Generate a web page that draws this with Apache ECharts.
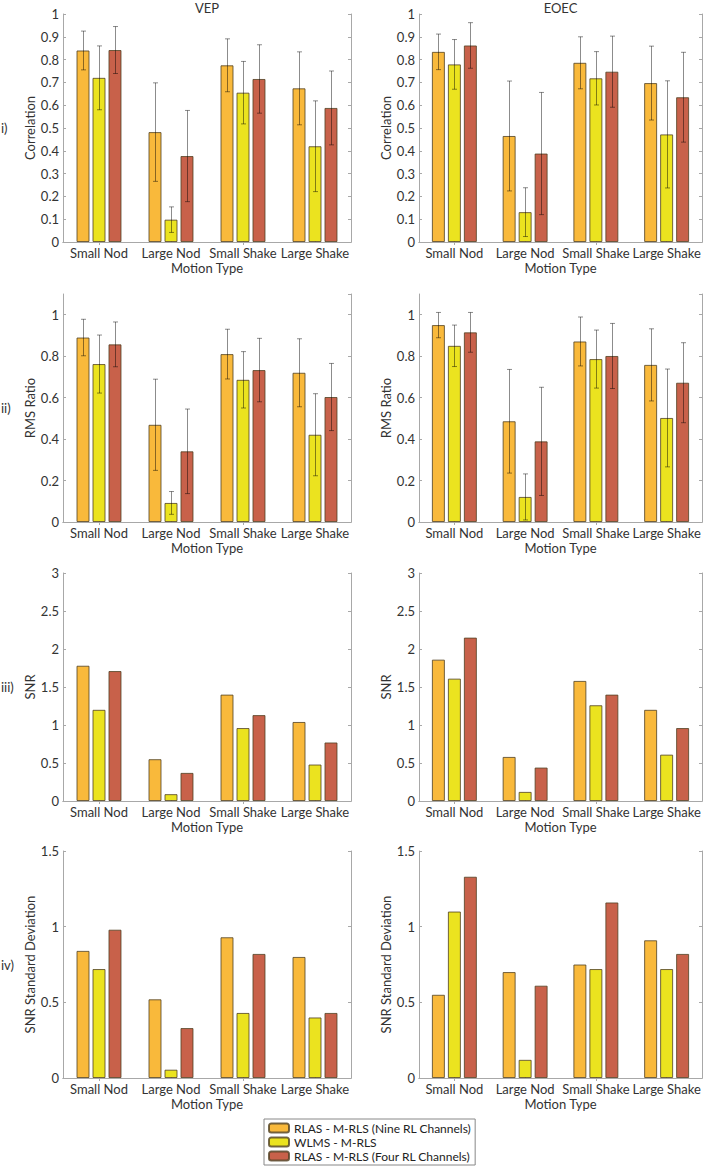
<!DOCTYPE html>
<html>
<head>
<meta charset="utf-8">
<script src="https://cdn.jsdelivr.net/npm/echarts@6/dist/echarts.min.js"></script>
<style>
html,body{margin:0;padding:0;background:#fff;}
#chart{width:709px;height:1166px;}
</style>
</head>
<body>
<div id="chart"></div>
<script>
// ---------- data ----------
const categories = ['Small Nod', 'Large Nod', 'Small Shake', 'Large Shake'];
const seriesNames = ['RLAS - M-RLS (Nine RL Channels)', 'WLMS - M-RLS', 'RLAS - M-RLS (Four RL Channels)'];
const columnTitles = ['VEP', 'EOEC'];
const rowLabels = ['i)', 'ii)', 'iii)', 'iv)'];
const yAxisNames = ['Correlation', 'RMS Ratio', 'SNR', 'SNR Standard Deviation'];
const xAxisName = 'Motion Type';

// i) Correlation
const vepCorrNine = [0.840, 0.482, 0.775, 0.674];
const vepCorrWlms = [0.720, 0.098, 0.655, 0.420];
const vepCorrFour = [0.842, 0.377, 0.715, 0.588];
const vepCorrNineErr = [0.085, 0.216, 0.116, 0.160];
const vepCorrWlmsErr = [0.140, 0.056, 0.137, 0.199];
const vepCorrFourErr = [0.103, 0.200, 0.150, 0.162];

const eoecCorrNine = [0.834, 0.465, 0.786, 0.697];
const eoecCorrWlms = [0.779, 0.131, 0.718, 0.472];
const eoecCorrFour = [0.862, 0.388, 0.747, 0.635];
const eoecCorrNineErr = [0.078, 0.241, 0.114, 0.162];
const eoecCorrWlmsErr = [0.109, 0.107, 0.117, 0.235];
const eoecCorrFourErr = [0.100, 0.268, 0.156, 0.197];

// ii) RMS Ratio
const vepRmsNine = [0.890, 0.469, 0.810, 0.720];
const vepRmsWlms = [0.762, 0.092, 0.686, 0.421];
const vepRmsFour = [0.857, 0.341, 0.733, 0.603];
const vepRmsNineErr = [0.088, 0.220, 0.120, 0.164];
const vepRmsWlmsErr = [0.140, 0.055, 0.136, 0.198];
const vepRmsFourErr = [0.108, 0.204, 0.153, 0.162];

const eoecRmsNine = [0.950, 0.486, 0.871, 0.758];
const eoecRmsWlms = [0.850, 0.121, 0.786, 0.502];
const eoecRmsFour = [0.915, 0.389, 0.801, 0.672];
const eoecRmsNineErr = [0.061, 0.250, 0.118, 0.174];
const eoecRmsWlmsErr = [0.100, 0.111, 0.140, 0.236];
const eoecRmsFourErr = [0.096, 0.261, 0.157, 0.193];

// iii) SNR
const vepSnrNine = [1.78, 0.55, 1.40, 1.04];
const vepSnrWlms = [1.20, 0.09, 0.96, 0.48];
const vepSnrFour = [1.71, 0.37, 1.13, 0.77];
const eoecSnrNine = [1.86, 0.58, 1.58, 1.20];
const eoecSnrWlms = [1.61, 0.12, 1.26, 0.61];
const eoecSnrFour = [2.15, 0.44, 1.40, 0.96];

// iv) SNR Standard Deviation
const vepSdNine = [0.84, 0.52, 0.93, 0.80];
const vepSdWlms = [0.72, 0.055, 0.43, 0.40];
const vepSdFour = [0.98, 0.33, 0.82, 0.43];
const eoecSdNine = [0.55, 0.70, 0.75, 0.91];
const eoecSdWlms = [1.10, 0.12, 0.72, 0.72];
const eoecSdFour = [1.33, 0.61, 1.16, 0.82];

// y-axis scales per row
const yMax = [1, 1.1, 3, 1.5];
const yInterval = [0.1, 0.2, 0.5, 0.5];

// ---------- panel assembly ----------
const panels = [
  { row: 0, col: 0, vals: [vepCorrNine, vepCorrWlms, vepCorrFour], errs: [vepCorrNineErr, vepCorrWlmsErr, vepCorrFourErr] },
  { row: 0, col: 1, vals: [eoecCorrNine, eoecCorrWlms, eoecCorrFour], errs: [eoecCorrNineErr, eoecCorrWlmsErr, eoecCorrFourErr] },
  { row: 1, col: 0, vals: [vepRmsNine, vepRmsWlms, vepRmsFour], errs: [vepRmsNineErr, vepRmsWlmsErr, vepRmsFourErr] },
  { row: 1, col: 1, vals: [eoecRmsNine, eoecRmsWlms, eoecRmsFour], errs: [eoecRmsNineErr, eoecRmsWlmsErr, eoecRmsFourErr] },
  { row: 2, col: 0, vals: [vepSnrNine, vepSnrWlms, vepSnrFour] },
  { row: 2, col: 1, vals: [eoecSnrNine, eoecSnrWlms, eoecSnrFour] },
  { row: 3, col: 0, vals: [vepSdNine, vepSdWlms, vepSdFour] },
  { row: 3, col: 1, vals: [eoecSdNine, eoecSdWlms, eoecSdFour] }
];

// layout (pixels)
const colLeft = [63, 419];
const colWidth = [288, 283];
const rowTop = [14, 294, 573, 851];
const rowHeight = [228, 228, 228, 227];
const colors = ['#F9B93B', '#EBE31F', '#C8614A'];
const FONT = 'Lato';
const TXT = '#333333';
const AXC = '#A8A8A8';
const BAR_W = 13;
const BAR_GAP = 0.23;

const grids = [], xAxes = [], yAxes = [], series = [];

panels.forEach((p, i) => {
  grids.push({ left: colLeft[p.col], top: rowTop[p.row], width: colWidth[p.col], height: rowHeight[p.row], containLabel: false });
  const axLine = { show: true, lineStyle: { color: AXC, width: 1 } };
  xAxes.push({
    type: 'category', gridIndex: i, data: categories, position: 'bottom',
    axisLine: axLine,
    axisTick: { show: true, inside: true, alignWithLabel: true, length: 3, lineStyle: { color: AXC } },
    axisLabel: { interval: 0, color: TXT, fontFamily: FONT, fontSize: 13, margin: 4 },
    name: xAxisName, nameLocation: 'middle', nameGap: 19,
    nameTextStyle: { color: TXT, fontFamily: FONT, fontSize: 13 }
  });
  xAxes.push({
    type: 'category', gridIndex: i, data: categories, position: 'top',
    axisLine: axLine,
    axisTick: { show: true, inside: true, alignWithLabel: true, length: 3, lineStyle: { color: AXC } },
    axisLabel: { show: false }
  });
  const yBase = {
    type: 'value', gridIndex: i, min: 0, max: yMax[p.row], interval: yInterval[p.row],
    axisLine: axLine, splitLine: { show: false },
    axisTick: { show: true, inside: true, length: 3, lineStyle: { color: AXC } }
  };
  yAxes.push(Object.assign({}, yBase, {
    position: 'left',
    axisLabel: { color: TXT, fontFamily: FONT, fontSize: 13, margin: 4, showMaxLabel: p.row !== 1 },
    name: yAxisNames[p.row], nameLocation: 'middle', nameGap: p.col === 0 ? 26 : 27,
    nameTextStyle: { color: TXT, fontFamily: FONT, fontSize: 13 }
  }));
  yAxes.push(Object.assign({}, yBase, { position: 'right', axisLabel: { show: false } }));

  p.vals.forEach((arr, k) => {
    series.push({
      type: 'bar', name: seriesNames[k], xAxisIndex: 2 * i, yAxisIndex: 2 * i,
      data: arr, barWidth: BAR_W, barGap: (BAR_GAP * 100) + '%',
      itemStyle: { color: colors[k], borderColor: 'rgba(80,65,35,0.8)', borderWidth: 1 },
      emphasis: { disabled: true }, silent: true
    });
  });

  if (p.errs) {
    const errData = [];
    p.errs.forEach((earr, k) => {
      earr.forEach((e, c) => {
        const m = p.vals[k][c];
        errData.push([c, m - e, m + e, k]);
      });
    });
    series.push({
      type: 'custom', xAxisIndex: 2 * i, yAxisIndex: 2 * i, z: 5, silent: true,
      data: errData,
      renderItem: function (params, api) {
        const c = api.value(0), lo = api.value(1), hi = api.value(2), k = api.value(3);
        const pLo = api.coord([c, lo]);
        const pHi = api.coord([c, hi]);
        const x = Math.round(pLo[0] + (k - 1) * BAR_W * (1 + BAR_GAP)) + 0.5;
        const cap = 2.5;
        const st = { stroke: 'rgba(0,0,0,0.45)', lineWidth: 1 };
        return {
          type: 'group', children: [
            { type: 'line', shape: { x1: x, y1: pLo[1], x2: x, y2: pHi[1] }, style: st },
            { type: 'line', shape: { x1: x - cap, y1: pLo[1], x2: x + cap, y2: pLo[1] }, style: st },
            { type: 'line', shape: { x1: x - cap, y1: pHi[1], x2: x + cap, y2: pHi[1] }, style: st }
          ]
        };
      }
    });
  }
});

const graphics = [];
columnTitles.forEach((t, c) => {
  graphics.push({ type: 'text', x: colLeft[c] + colWidth[c] / 2, y: 8,
    style: { text: t, fill: TXT, font: '13px ' + FONT, textAlign: 'center', textVerticalAlign: 'middle' } });
});
rowLabels.forEach((t, r) => {
  graphics.push({ type: 'text', x: 1, y: rowTop[r] + rowHeight[r] / 2,
    style: { text: t, fill: TXT, font: '13px ' + FONT, textAlign: 'left', textVerticalAlign: 'middle' } });
});

const chart = echarts.init(document.getElementById('chart'), null, { renderer: 'svg' });
chart.setOption({
  animation: false,
  backgroundColor: '#ffffff',
  grid: grids,
  xAxis: xAxes,
  yAxis: yAxes,
  series: series,
  graphic: graphics,
  legend: {
    data: seriesNames, orient: 'vertical', left: 264, top: 1119, height: 44,
    itemWidth: 20, itemHeight: 9, itemGap: 0,
    padding: [2, 4, 2, 4],
    borderColor: '#888888', borderWidth: 1, backgroundColor: '#ffffff',
    textStyle: { color: '#222', fontFamily: FONT, fontSize: 12, lineHeight: 14 },
    selectedMode: false
  }
});
</script>
</body>
</html>
